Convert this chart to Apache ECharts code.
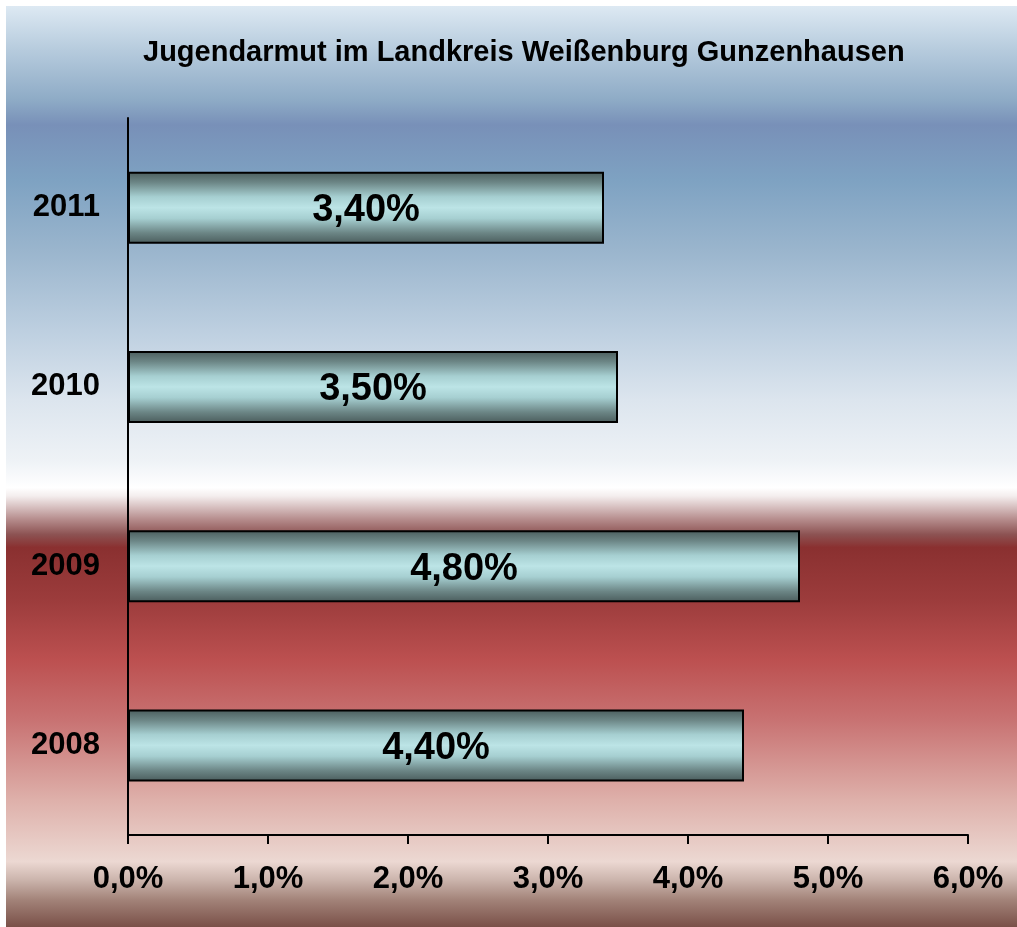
<!DOCTYPE html>
<html>
<head>
<meta charset="utf-8">
<script src="https://cdn.jsdelivr.net/npm/echarts@6/dist/echarts.min.js"></script>
<style>
  html, body { margin: 0; padding: 0; background: #ffffff; }
  #chart { width: 1017px; height: 927px; }
</style>
</head>
<body>
<div id="chart"></div>
<script>
  // Daten
  var titleText = 'Jugendarmut im Landkreis Weißenburg Gunzenhausen';
  var years = ['2008', '2009', '2010', '2011'];
  var quote = [4.4, 4.8, 3.5, 3.4];
  var xTicks = ['0,0%', '1,0%', '2,0%', '3,0%', '4,0%', '5,0%', '6,0%'];

  var fontFam = '"Liberation Sans", Arial, sans-serif';

  // Hintergrund-Verlauf (blau oben, rot unten)
  var bgStops = [
    [0, '#dde9f3'], [0.048, '#b6cbdd'], [0.102, '#8eabc6'], [0.129, '#7890b8'],
    [0.189, '#7ea2c2'], [0.265, '#9ab5cd'], [0.352, '#bdcfe0'], [0.428, '#dce5ee'],
    [0.493, '#eef2f6'], [0.523, '#ffffff'], [0.532, '#f4eeee'], [0.542, '#dcc8c8'],
    [0.558, '#b48a8a'], [0.574, '#8c5252'], [0.588, '#8a3030'], [0.645, '#9c3c3c'],
    [0.710, '#bc5050'], [0.775, '#c87272'], [0.862, '#deb0aa'], [0.929, '#ecd8d2'],
    [0.949, '#cbb4ac'], [0.971, '#a28278'], [1, '#7a5048']
  ].map(function (s) { return { offset: s[0], color: s[1] }; });

  var myChart = echarts.init(document.getElementById('chart'));
  myChart.setOption({
    backgroundColor: '#ffffff',
    animation: false,
    graphic: [{
      type: 'rect',
      z: -10,
      silent: true,
      shape: { x: 6, y: 6, width: 1011, height: 921 },
      style: { fill: new echarts.graphic.LinearGradient(0, 0, 0, 1, bgStops) }
    }],
    title: {
      text: titleText,
      left: 138,
      top: 33,
      textStyle: { color: '#000', fontSize: 29, fontWeight: 'bold', fontFamily: fontFam }
    },
    grid: { left: 128, right: 49, top: 118, bottom: 92, containLabel: false },
    xAxis: {
      type: 'value',
      min: 0,
      max: 6,
      interval: 1,
      axisLine: { show: true, lineStyle: { color: '#000', width: 2 } },
      axisTick: { show: true, length: 9, lineStyle: { color: '#000', width: 2 } },
      splitLine: { show: false },
      axisLabel: {
        margin: 29,
        color: '#000',
        fontSize: 31,
        fontWeight: 'bold',
        fontFamily: fontFam,
        formatter: function (v) { return xTicks[Math.round(v)]; }
      }
    },
    yAxis: {
      type: 'category',
      data: years,
      axisLine: { show: true, lineStyle: { color: '#000', width: 2 } },
      axisTick: { show: false },
      axisLabel: {
        margin: 28,
        padding: [10, 0, 0, 0],
        color: '#000',
        fontSize: 31,
        fontWeight: 'bold',
        fontFamily: fontFam
      }
    },
    series: [{
      type: 'bar',
      data: quote,
      barWidth: 72,
      silent: true,
      itemStyle: {
        borderColor: '#000',
        borderWidth: 2,
        color: new echarts.graphic.LinearGradient(0, 0, 0, 1, [
          { offset: 0, color: '#4a5c5c' },
          { offset: 0.15, color: '#6c8686' },
          { offset: 0.35, color: '#a6cfd1' },
          { offset: 0.5, color: '#bce4e6' },
          { offset: 0.65, color: '#a6cfd1' },
          { offset: 0.85, color: '#6c8686' },
          { offset: 1, color: '#4a5c5c' }
        ])
      },
      label: {
        show: true,
        position: 'inside',
        offset: [0, 3],
        color: '#000',
        fontSize: 38,
        fontWeight: 'bold',
        fontFamily: fontFam,
        formatter: function (p) { return p.value.toFixed(2).replace('.', ',') + '%'; }
      }
    }]
  });
</script>
</body>
</html>
